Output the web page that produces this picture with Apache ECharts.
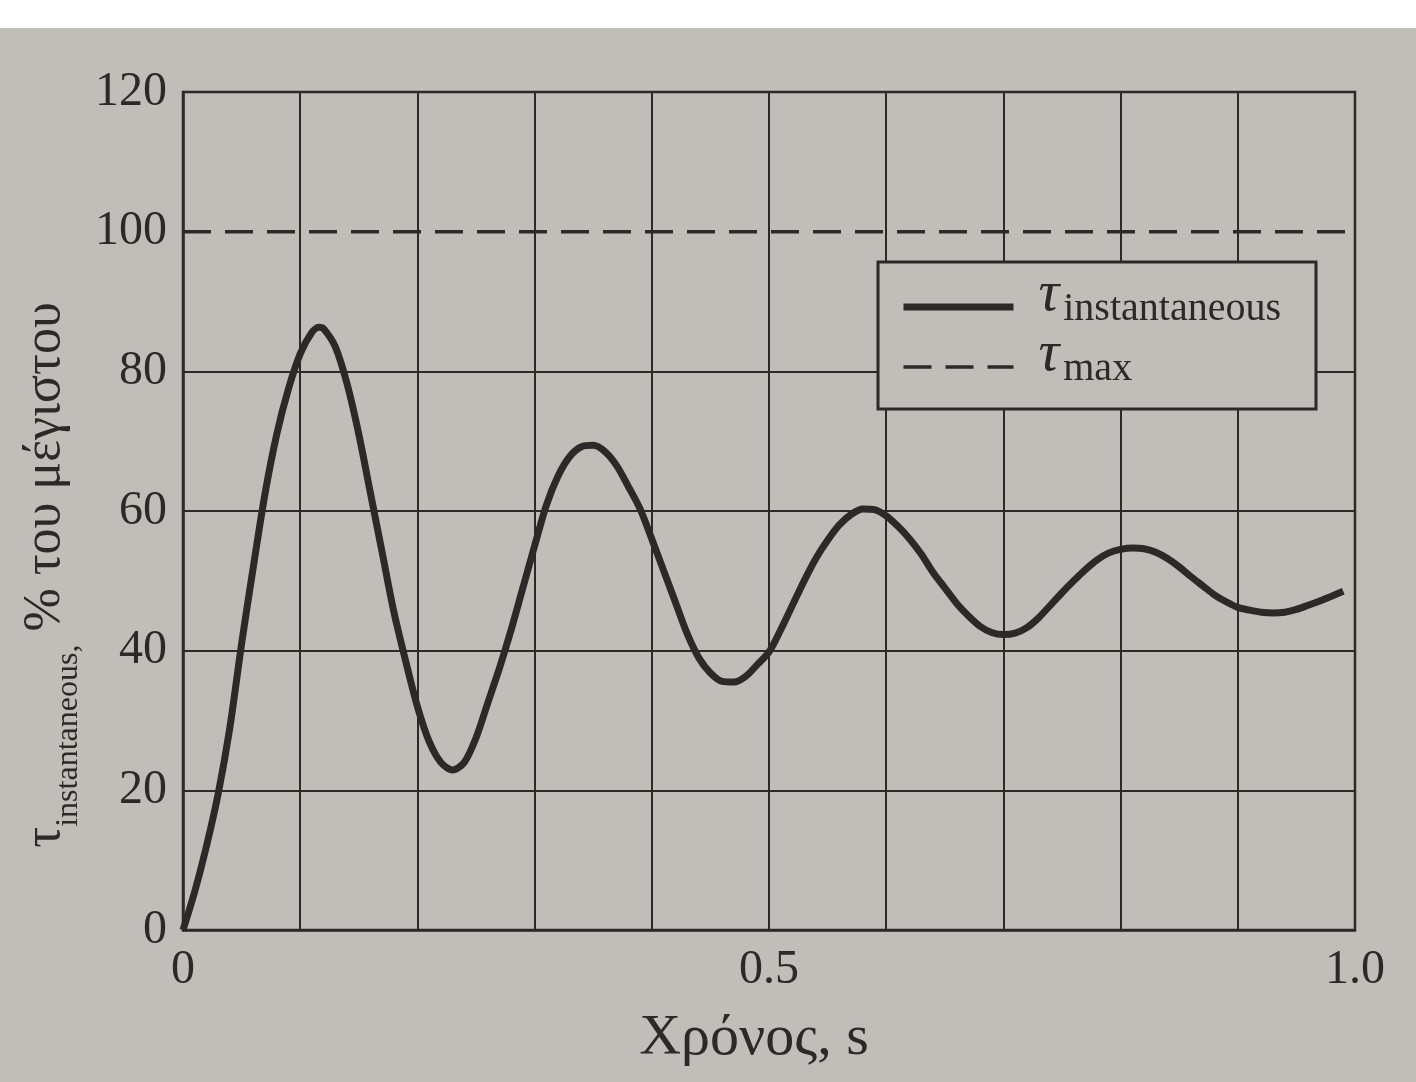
<!DOCTYPE html>
<html>
<head>
<meta charset="utf-8">
<script src="https://cdn.jsdelivr.net/npm/echarts@6/dist/echarts.min.js"></script>
<style>
  html, body { margin: 0; padding: 0; background: #ffffff; }
  #chart { width: 1416px; height: 1082px; }
</style>
</head>
<body>
<div id="chart"></div>
<script>
// ---- Data ----
const timeS = [0.00, 0.01, 0.02, 0.03, 0.04, 0.05, 0.06, 0.07, 0.08, 0.09, 0.10, 0.11, 0.116, 0.12, 0.13, 0.14, 0.15, 0.16, 0.17, 0.18, 0.19,
  0.20, 0.21, 0.22, 0.23, 0.24, 0.25, 0.26, 0.27, 0.28, 0.29, 0.30, 0.31, 0.32, 0.33, 0.34, 0.35, 0.36, 0.37, 0.38, 0.39,
  0.40, 0.41, 0.42, 0.43, 0.44, 0.45, 0.46, 0.47, 0.48, 0.49, 0.50, 0.51, 0.52, 0.53, 0.54, 0.55, 0.56, 0.57, 0.58, 0.59,
  0.60, 0.61, 0.62, 0.63, 0.64, 0.65, 0.66, 0.67, 0.68, 0.69, 0.70, 0.71, 0.72, 0.73, 0.74, 0.75, 0.76, 0.77, 0.78, 0.79,
  0.80, 0.81, 0.82, 0.83, 0.84, 0.85, 0.86, 0.87, 0.88, 0.89, 0.90, 0.91, 0.92, 0.93, 0.94, 0.95, 0.96, 0.97, 0.98, 0.99];
const tauInstant = [0, 5.5, 12, 19.5, 29, 41, 52, 62.5, 71, 77.5, 82.5, 85.6, 86.3, 86.1, 83.5, 78.2, 71, 62.5, 54, 45.5, 38.5,
  32, 27, 24, 22.9, 24, 27.5, 32.5, 37.5, 43, 49, 55, 60.8, 65, 67.8, 69.2, 69.4, 68.5, 66.5, 63.5, 60.3,
  56, 51.5, 47, 42.5, 39, 36.8, 35.6, 35.5, 36.3, 38, 39.8, 43, 46.5, 50, 53.2, 55.8, 58, 59.5, 60.3, 60.2,
  59.3, 57.8, 56, 53.8, 51.2, 49, 46.8, 45, 43.5, 42.6, 42.3, 42.5, 43.3, 44.7, 46.5, 48.3, 50, 51.6, 53, 54,
  54.5, 54.7, 54.6, 54.1, 53.2, 52, 50.6, 49.3, 48, 47, 46.2, 45.8, 45.5, 45.4, 45.5, 45.9, 46.5, 47.1, 47.8, 48.5];
const maxTime = [0, 1.0];
const tauMax = [100, 100];
const xLabelValues = [0, 0.5, 1.0];
const xLabelTexts = ['0', '0.5', '1.0'];
const seriesNames = ['instantaneous', 'max'];
const xAxisTitle = 'Χρόνος, s';
const yAxisTitleSymbol = 'τ';
const yAxisTitleSub = 'instantaneous,';
const yAxisTitleRest = ' % του μέγιστου';

const ink = '#2b2a29';
const paper = '#c1beba';
const serif = '"Liberation Serif", "DejaVu Serif", serif';

const chart = echarts.init(document.getElementById('chart'));
chart.setOption({
  backgroundColor: paper,
  animation: false,
  graphic: [
    { type: 'rect', shape: { x: 0, y: 0, width: 1416, height: 28 }, style: { fill: '#ffffff' }, silent: true }
  ],
  grid: {
    left: 183, right: 61, top: 92, bottom: 152,
    show: true, borderColor: ink, borderWidth: 2.5, backgroundColor: 'transparent'
  },
  legend: {
    orient: 'vertical',
    left: 878, top: 262,
    padding: [4, 35, 20, 22],
    itemGap: -3,
    itemWidth: 110, itemHeight: 20,
    borderColor: ink, borderWidth: 3,
    backgroundColor: paper,
    itemStyle: { opacity: 0 },
    data: [
      { name: seriesNames[0], lineStyle: { width: 7, color: ink } },
      { name: seriesNames[1], lineStyle: { width: 3.5, color: ink, type: [28, 14] } }
    ],
    formatter: function (n) { return '{t|τ}{s|' + n + '}'; },
    textStyle: {
      color: ink,
      rich: {
        t: { fontFamily: serif, fontStyle: 'italic', fontSize: 58, color: ink, verticalAlign: 'top', lineHeight: 36, padding: [-21, 4, 0, 20] },
        s: { fontFamily: serif, fontSize: 40, color: ink, verticalAlign: 'top', lineHeight: 40, padding: [2, 0, 0, 0] }
      }
    }
  },
  xAxis: {
    type: 'value', min: 0, max: 1, interval: 0.1,
    axisLine: { show: true, lineStyle: { color: ink, width: 2.5 } },
    axisTick: { show: false },
    splitLine: { show: true, lineStyle: { color: ink, width: 2 } },
    axisLabel: {
      color: ink, fontFamily: serif, fontSize: 48, margin: 16,
      formatter: function (v) {
        for (let i = 0; i < xLabelValues.length; i++) {
          if (Math.abs(v - xLabelValues[i]) < 1e-9) return xLabelTexts[i];
        }
        return '';
      }
    },
    name: xAxisTitle,
    nameLocation: 'middle',
    nameGap: 80,
    nameTextStyle: { color: ink, fontFamily: serif, fontSize: 58, padding: [0, 30, 0, 0] }
  },
  yAxis: {
    type: 'value', min: 0, max: 120, interval: 20,
    axisLine: { show: true, lineStyle: { color: ink, width: 2.5 } },
    axisTick: { show: false },
    splitLine: { show: true, lineStyle: { color: [ink, ink, ink, ink, ink, 'rgba(0,0,0,0)', ink], width: 2 } },
    axisLabel: { color: ink, fontFamily: serif, fontSize: 48, margin: 16 },
    name: '{t|' + yAxisTitleSymbol + '}{s|' + yAxisTitleSub + '}{n|' + yAxisTitleRest + '}',
    nameLocation: 'middle',
    nameGap: 92,
    nameTextStyle: {
      color: ink,
      rich: {
        t: { fontFamily: serif, fontSize: 52, color: ink, verticalAlign: 'top', lineHeight: 52 },
        s: { fontFamily: serif, fontSize: 32, color: ink, verticalAlign: 'top', lineHeight: 32, padding: [33, 0, 0, 0] },
        n: { fontFamily: serif, fontSize: 52, color: ink, verticalAlign: 'top', lineHeight: 52, padding: [0, 128, 0, 0] }
      }
    }
  },
  series: [
    {
      name: seriesNames[0],
      type: 'line',
      smooth: 0.3,
      symbol: 'none',
      data: timeS.map((t, i) => [t, tauInstant[i]]),
      lineStyle: { color: ink, width: 7 },
      itemStyle: { color: ink }
    },
    {
      name: seriesNames[1],
      type: 'line',
      symbol: 'none',
      data: maxTime.map((t, i) => [t, tauMax[i]]),
      lineStyle: { color: ink, width: 3.5, type: [28, 14] },
      itemStyle: { color: ink }
    }
  ]
});
</script>
</body>
</html>
